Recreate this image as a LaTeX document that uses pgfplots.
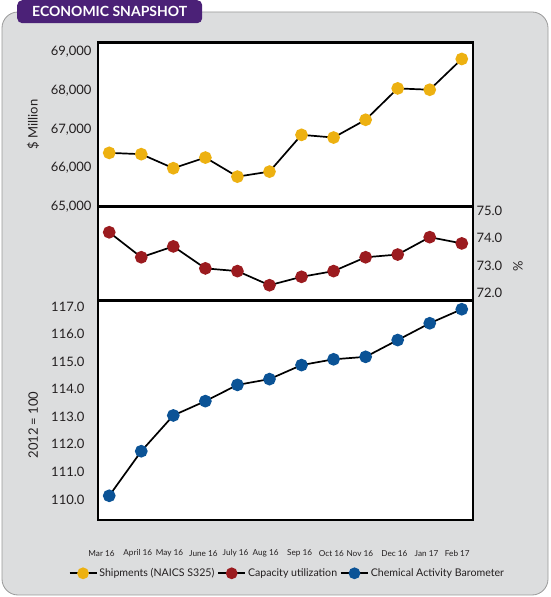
\documentclass[border=0pt]{standalone}
\usepackage{pgfplots}
\pgfplotsset{compat=1.18}
\usepackage{fontspec}
\setmainfont{Lato}
\definecolor{bg}{HTML}{DCDDDE}
\definecolor{purp}{HTML}{4B2177}
\definecolor{yel}{HTML}{EDB111}
\definecolor{redc}{HTML}{9B1B1F}
\definecolor{bluec}{HTML}{0B5396}
\definecolor{txt}{HTML}{231F20}
\pgfplotsset{
  panel/.style={
    scale only axis, width=375pt, xmin=-0.35, xmax=11.35,
    axis line style={line width=2.4pt, black},
    axis background/.style={fill=white},
    xtick=\empty, major tick length=0pt,
    scaled y ticks=false,
    /pgf/number format/assume math mode=true,
    tick label style={font=\fontsize{13}{15}\selectfont, text=txt},
    label style={font=\fontsize{13}{15}\selectfont, text=txt},
    every axis plot/.append style={line width=1.7pt, black, mark=*, mark size=5.5pt},
  },
}
\begin{document}
\begin{tikzpicture}[x=1pt,y=1pt]
\path[use as bounding box] (0,0) rectangle (550,597);
\draw[fill=bg, draw=gray!80, line width=0.8pt, rounded corners=16pt] (2,2) rectangle (548,585);
\node[fill=purp, rounded corners=5pt, minimum width=185pt, minimum height=23pt, inner sep=0pt, text=white, font=\fontsize{14}{16}\selectfont\bfseries, anchor=north west] at (17,597) {ECONOMIC SNAPSHOT};

% top panel
\begin{axis}[panel, at={(98pt,390.5pt)}, anchor=south west, height=164pt,
  ymin=65000, ymax=69250, ytick={65000,66000,67000,68000,69000},
  /pgf/number format/.cd, 1000 sep={,}, /pgfplots/.cd,
  yticklabel style={xshift=-3pt},
  ylabel={\$ Million}, ylabel style={at={(axis description cs:-0.173,0.5)}, anchor=center}]
\addplot[mark options={fill=yel, draw=yel}] coordinates {
(0,66390) (1,66356) (2,65992) (3,66268) (4,65774) (5,65904)
(6,66857) (7,66787) (8,67247) (9,68060) (10,68026) (11,68823)};
\end{axis}

% middle panel
\begin{axis}[panel, at={(98pt,296.3pt)}, anchor=south west, height=94.2pt,
  ymin=71.7, ymax=75.17, ytick={72,73,74,75}, yticklabel pos=right,
  yticklabel style={/pgf/number format/.cd, fixed, fixed zerofill, precision=1},
  ylabel={\%}, ylabel style={at={(axis description cs:1.12,0.37)}, anchor=center}]
\addplot[mark options={fill=redc, draw=redc}] coordinates {
(0,74.22) (1,73.30) (2,73.70) (3,72.89) (4,72.79) (5,72.27)
(6,72.58) (7,72.79) (8,73.30) (9,73.40) (10,74.04) (11,73.81)};
\end{axis}

% bottom panel
\begin{axis}[panel, at={(98pt,77pt)}, anchor=south west, height=219.3pt,
  ymin=109.25, ymax=117.22, ytick={110,111,112,113,114,115,116,117},
  yticklabel style={xshift=-10pt, /pgf/number format/.cd, fixed, fixed zerofill, precision=1},
  xtick={-0.24,0.89,1.88,2.94,3.94,4.88,5.94,6.93,7.82,8.90,9.90,10.86},
  xticklabels={Mar 16, April 16, May 16, June 16, July 16, Aug 16, Sep 16, Oct 16, Nov 16, Dec 16, Jan 17, Feb 17},
  xticklabel style={anchor=center, yshift=-33.3pt, font=\fontsize{8.2}{9}\selectfont, text=txt},
  ylabel={2012 = 100}, ylabel style={at={(axis description cs:-0.173,0.433)}, anchor=center},
  legend style={at={(axis description cs:0.505,-0.243)}, anchor=center, draw=none, fill=none,
    legend columns=3, font=\fontsize{10.6}{12}\selectfont, text=txt,
    /tikz/every even column/.append style={column sep=1pt}},
  legend image code/.code={\draw[mark repeat=2,mark phase=2,#1, line width=1.7pt, mark size=5pt] plot coordinates {(0pt,0pt) (13.5pt,0pt) (27pt,0pt)};}]
\addlegendimage{black, mark=*, mark options={fill=yel, draw=yel}}
\addlegendentry{Shipments (NAICS S325)}
\addlegendimage{black, mark=*, mark options={fill=redc, draw=redc}}
\addlegendentry{Capacity utilization}
\addplot[mark options={fill=bluec, draw=bluec}] coordinates {
(0,110.13) (1,111.75) (2,113.05) (3,113.57) (4,114.16) (5,114.37)
(6,114.88) (7,115.09) (8,115.18) (9,115.79) (10,116.40) (11,116.91)};
\addlegendentry{Chemical Activity Barometer}
\end{axis}
\end{tikzpicture}
\end{document}
